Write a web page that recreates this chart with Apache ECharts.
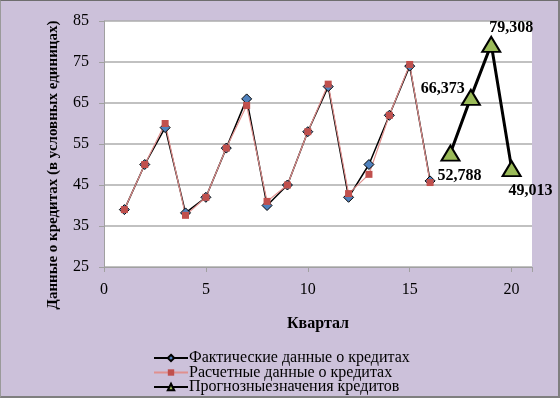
<!DOCTYPE html>
<html>
<head>
<meta charset="utf-8">
<script src="https://cdn.jsdelivr.net/npm/echarts@6/dist/echarts.min.js"></script>
<style>
  html, body { margin: 0; padding: 0; }
  #chart {
    width: 560px; height: 398px; box-sizing: border-box;
    background: #ccc1da;
    border-top: 1px solid #6e6e6e; border-left: 1px solid #9a9a9a;
    border-right: 2px solid #7f7f7f; border-bottom: 2px solid #7f7f7f;
  }
</style>
</head>
<body>
<div id="chart"></div>
<script>
// квартал 1..16 - факт и расчет, 17..20 - прогноз
var quarters = [1, 2, 3, 4, 5, 6, 7, 8, 9, 10, 11, 12, 13, 14, 15, 16];
var actual = [39, 50, 59, 38.2, 42, 54, 66, 40, 45, 58, 69, 42, 50, 62, 74, 46];
var calculated = [39, 50, 60, 37.6, 42, 54, 64.4, 41, 45, 58, 69.6, 42.9, 47.6, 62, 74.4, 45.6];
var forecastQuarters = [17, 18, 19, 20];
var forecast = [52.788, 66.373, 79.308, 49.013];
var xTicks = [0, 5, 10, 15, 20];

// смещения подписей прогноза (как в исходной диаграмме)
var labelOffsets = [[9, 23], [-28, -9], [20, -16], [19, 22]];

function pairs(xs, ys) {
  var out = [];
  for (var i = 0; i < xs.length; i++) out.push([xs[i], ys[i]]);
  return out;
}

var forecastData = [];
for (var i = 0; i < forecast.length; i++) {
  forecastData.push({
    value: [forecastQuarters[i], forecast[i]],
    label: { offset: labelOffsets[i] }
  });
}

var serif = '"Liberation Serif", "Times New Roman", serif';

var chart = echarts.init(document.getElementById('chart'), null, { renderer: 'canvas' });

var option = {
  animation: false,
  grid: { left: 103, right: 26, top: 20, bottom: 129, show: true, backgroundColor: '#fff', borderWidth: 0 },
  xAxis: {
    type: 'value',
    min: 0, max: 21, interval: 5,
    name: 'Квартал',
    nameLocation: 'middle',
    nameGap: 49,
    nameTextStyle: { fontFamily: serif, fontWeight: 'bold', fontSize: 16, color: '#000' },
    axisLine: { lineStyle: { color: '#a0a0a0', width: 1 } },
    axisTick: { length: 5, lineStyle: { color: '#a0a0a0' } },
    axisLabel: {
      margin: 15, fontFamily: serif, fontSize: 16, color: '#000',
      formatter: function (v) { return xTicks.indexOf(v) >= 0 ? String(v) : ''; }
    },
    splitLine: { show: false }
  },
  yAxis: {
    type: 'value',
    min: 25, max: 85, interval: 10,
    axisLine: { show: true, lineStyle: { color: '#a0a0a0', width: 1 } },
    axisTick: { show: true, length: 5, lineStyle: { color: '#a0a0a0' } },
    axisLabel: { margin: 15, fontFamily: serif, fontSize: 16, color: '#000' },
    splitLine: { lineStyle: { color: '#acacac', width: 1.5 } }
  },
  legend: {
    orient: 'vertical',
    left: 152, top: 349, height: 50,
    padding: 0,
    itemWidth: 34, itemHeight: 8, itemGap: -1.5,
    textStyle: { fontFamily: serif, fontSize: 16, color: '#000', lineHeight: 12, padding: [0, 0, 0, -4] },
    data: ['Фактические данные о кредитах', 'Расчетные данные о кредитах', 'Прогнозныезначения кредитов']
  },
  graphic: [{
    type: 'text',
    x: 52, y: 164,
    rotation: Math.PI / 2,
    style: {
      text: 'Данные о кредитах (в условных единицах)',
      font: 'bold 15px ' + serif,
      fill: '#000',
      align: 'center',
      verticalAlign: 'middle'
    }
  }],
  series: [
    {
      name: 'Фактические данные о кредитах',
      type: 'line',
      data: pairs(quarters, actual),
      symbol: 'diamond',
      symbolSize: 10,
      itemStyle: { color: '#4f81bd', borderColor: '#000', borderWidth: 1 },
      lineStyle: { color: '#000', width: 1.5 }
    },
    {
      name: 'Расчетные данные о кредитах',
      type: 'line',
      data: pairs(quarters, calculated),
      symbol: 'rect',
      symbolSize: 7,
      itemStyle: { color: '#c0504d', borderWidth: 0 },
      lineStyle: { color: '#e0908e', width: 1.2 }
    },
    {
      name: 'Прогнозныезначения кредитов',
      type: 'line',
      data: forecastData,
      symbol: 'triangle',
      symbolSize: [18, 15],
      itemStyle: { color: '#9bbb59', borderColor: '#000', borderWidth: 2 },
      lineStyle: { color: '#000', width: 3 },
      label: {
        show: true,
        position: 'inside',
        fontFamily: serif, fontWeight: 'bold', fontSize: 16, color: '#000',
        formatter: function (p) { return p.value[1].toFixed(3).replace('.', ','); }
      }
    }
  ]
};

chart.setOption(option);
</script>
</body>
</html>
